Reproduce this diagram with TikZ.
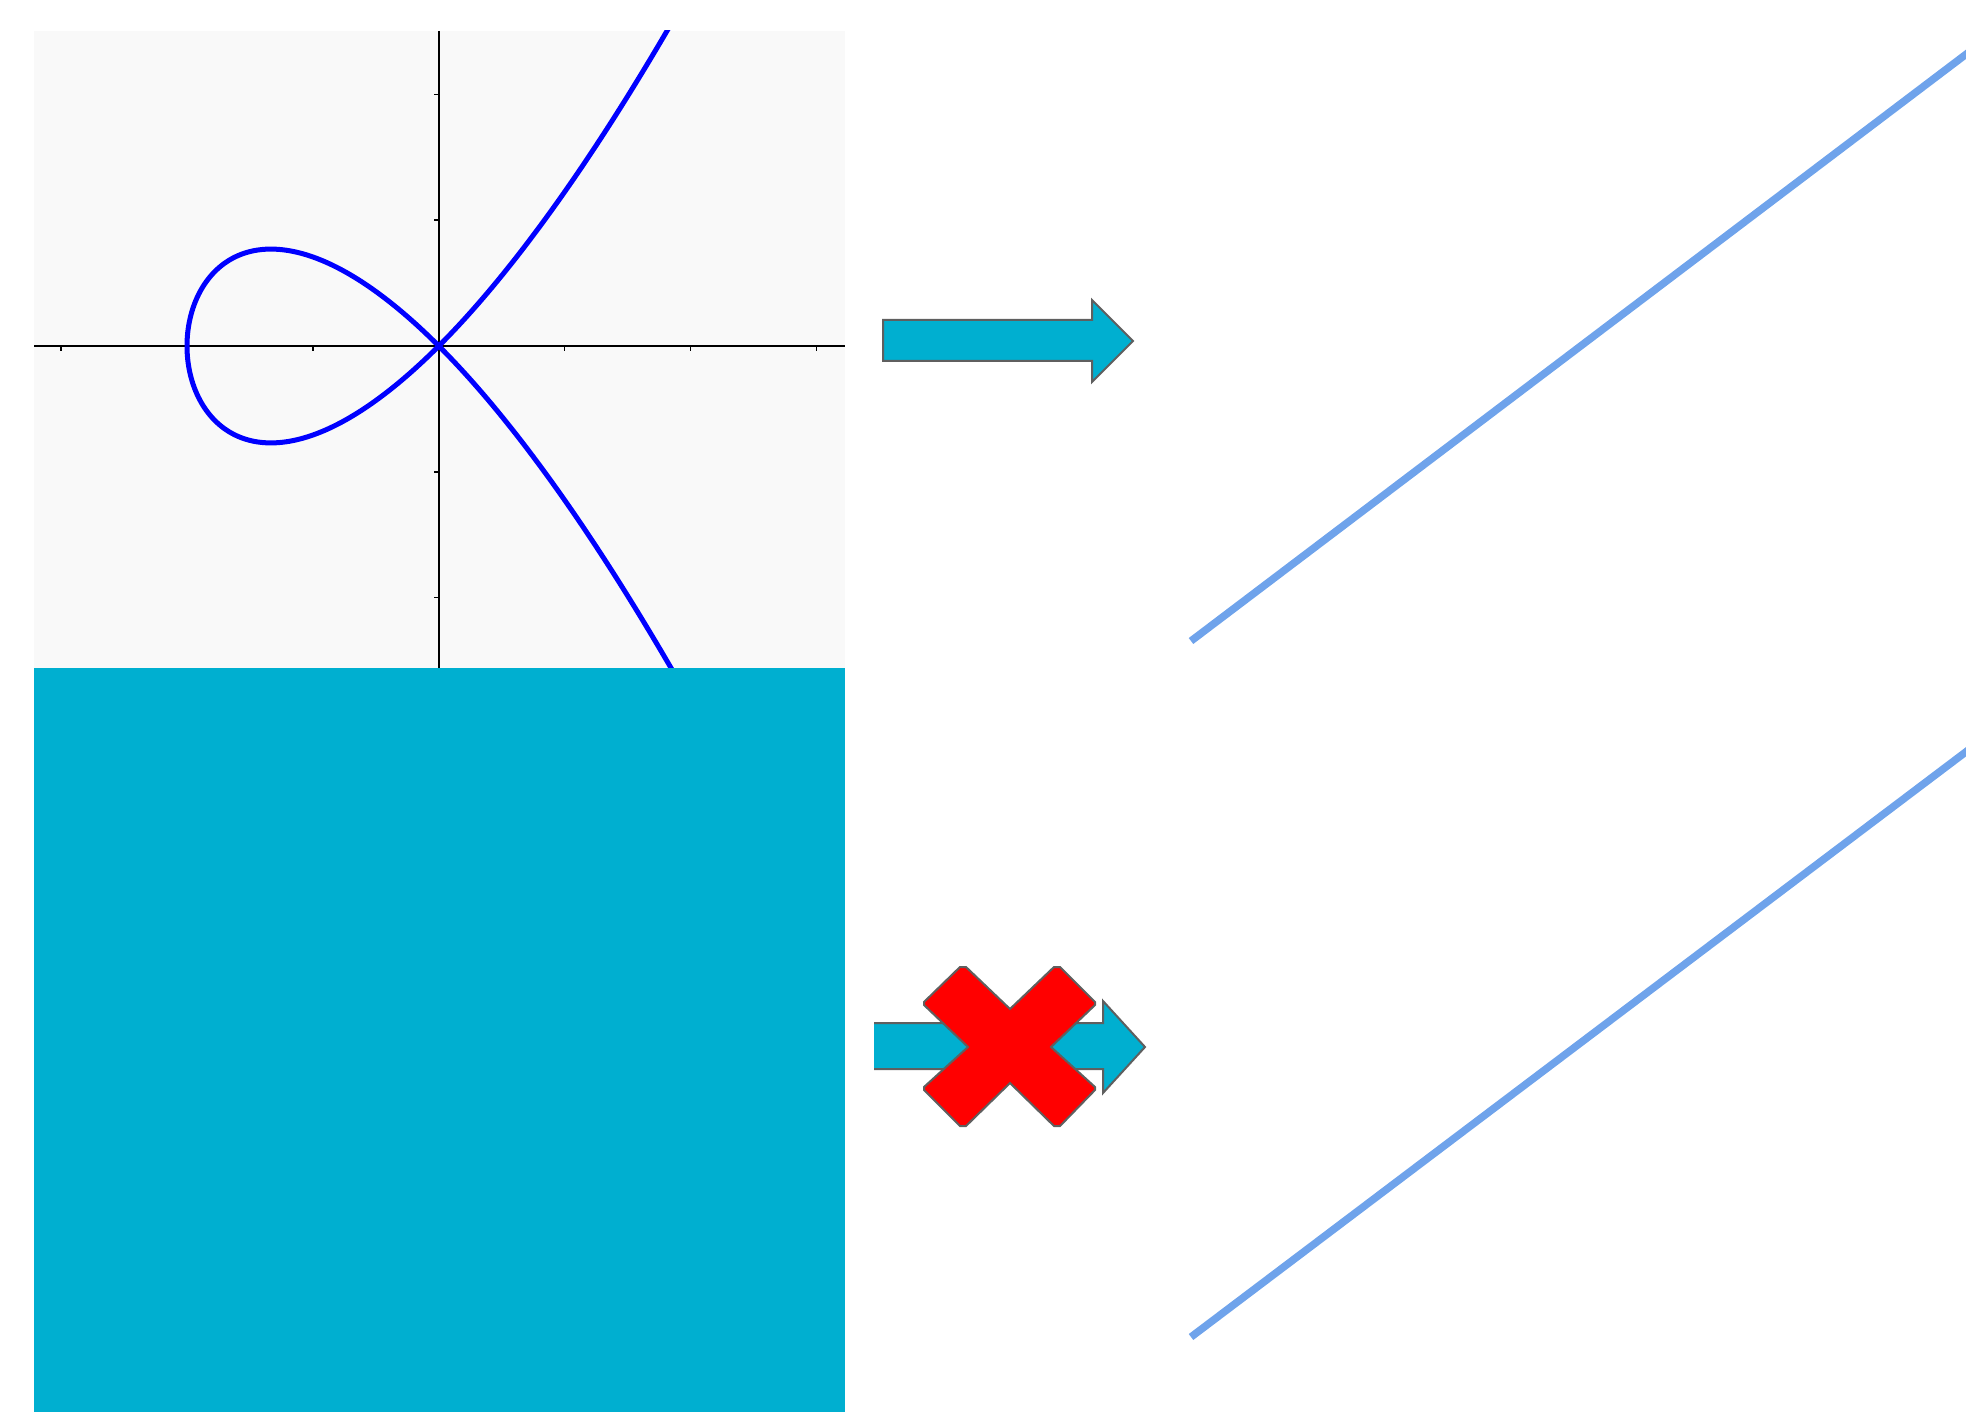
\documentclass[tikz,border=0pt]{standalone}
\usepackage{tikz}
\usetikzlibrary{positioning}
\definecolor{plotbg}{HTML}{F9F9F9}
\definecolor{boxcyan}{HTML}{00AFD0}
\definecolor{sketchblue}{HTML}{6FA3EB}
\definecolor{edgegray}{HTML}{5F5F5F}

\begin{document}
\begin{tikzpicture}[
    x=1pt, y=-1pt,
    panel/.style={fill=plotbg},
    axis/.style={draw=black, line width=1.8pt},
    tick/.style={draw=black, line width=1.3pt},
    curve/.style={draw=blue, line width=5pt},
    blockarrow/.style={fill=boxcyan, draw=edgegray, line width=2pt, line join=miter},
    cross/.style={fill=red, draw=edgegray, line width=2pt},
    sketchline/.style={draw=sketchblue, line width=7.5pt},
]
    \useasboundingbox (0,0) rectangle (1966,1412);
    \clip (0,0) rectangle (1966,1412);

    % plot of the nodal cubic
    \fill[panel] (34,31) rectangle (845,668);
    \coordinate (o) at (438.8,346);
    \draw[axis] (34,346) -- (845,346);
    \draw[axis] (438.8,31) -- (438.8,668);
    \foreach \k in {-3,-2,-1,1,2,3}
        \draw[tick] (438.8+125.9*\k,346) -- ++(0,5);
    \foreach \k in {-2,-1,1,2}
        \draw[tick] (438.8,346+125.9*\k) -- ++(-5,0);
    \begin{scope}
        \clip (34,31) rectangle (845,668);
        \draw[curve] plot[domain=-1.42:1.42, samples=241, smooth, variable=\t]
            ({438.8+125.9*(2*\t*\t-2)}, {346-125.9*\t*(2*\t*\t-2)});
    \end{scope}

    % filled square
    \fill[boxcyan] (34,668) rectangle (845,1412);

    % arrows
    \draw[blockarrow] (883,320) -- (1092,320) -- (1092,300) -- (1133,341)
        -- (1092,382) -- (1092,361) -- (883,361) -- cycle;
    \fill[boxcyan] (874,1023) -- (1103,1023) -- (1103,1001) -- (1145,1047)
        -- (1103,1093) -- (1103,1069) -- (874,1069) -- cycle;
    \draw[blockarrow, fill=none] (874,1023) -- (1103,1023) -- (1103,1001) -- (1145,1047)
        -- (1103,1093) -- (1103,1069) -- (874,1069);
    \draw[cross] (960,967) -- (966,967) -- (1010,1009) -- (1054,967) -- (1060,967)
        -- (1095,1002) -- (1095,1005) -- (1051,1047) -- (1095,1087) -- (1095,1090)
        -- (1060,1126) -- (1054,1126) -- (1010,1083) -- (966,1126) -- (960,1126)
        -- (924,1090) -- (924,1087) -- (968,1047) -- (924,1005) -- (924,1002) -- cycle;

    % lines
    \draw[sketchline] (1191,641) -- (1975,47.5);
    \draw[sketchline] (1191,1337) -- (1975,745);
\end{tikzpicture}
\end{document}
